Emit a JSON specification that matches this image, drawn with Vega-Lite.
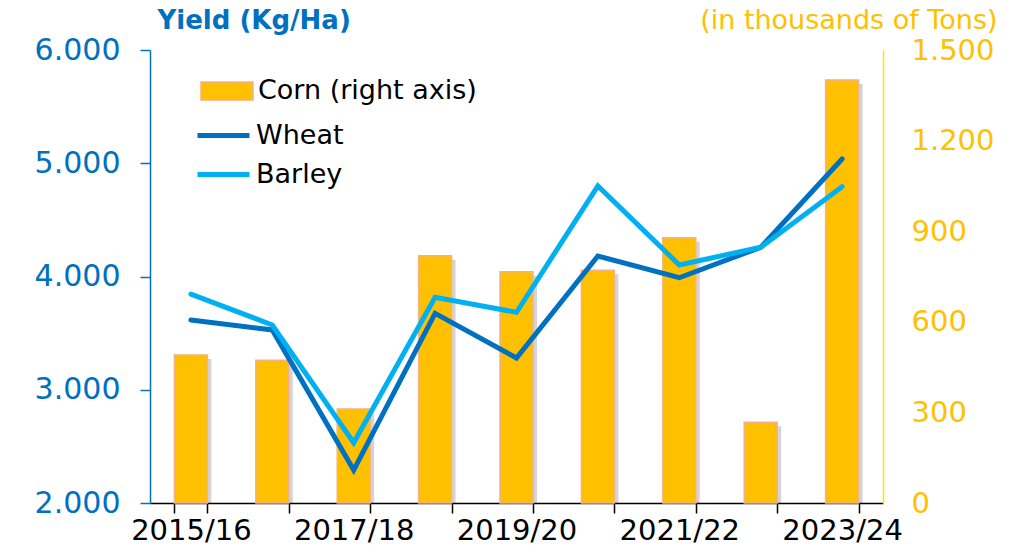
{
  "$schema": "https://vega.github.io/schema/vega-lite/v6.json",
  "width": 733,
  "height": 453,
  "autosize": {"type": "none"},
  "padding": {"left": 150, "top": 50, "right": 136, "bottom": 50},
  "background": "white",
  "config": {"font": "DejaVu Sans", "view": {"stroke": null}, "axis": {"grid": false}},
  "datasets": {
    "d": [
      {"year": "2015/16", "series": "Corn (right axis)", "value": 490},
      {"year": "2016/17", "series": "Corn (right axis)", "value": 473},
      {"year": "2017/18", "series": "Corn (right axis)", "value": 311},
      {"year": "2018/19", "series": "Corn (right axis)", "value": 819},
      {"year": "2019/20", "series": "Corn (right axis)", "value": 766},
      {"year": "2020/21", "series": "Corn (right axis)", "value": 771},
      {"year": "2021/22", "series": "Corn (right axis)", "value": 878},
      {"year": "2022/23", "series": "Corn (right axis)", "value": 267},
      {"year": "2023/24", "series": "Corn (right axis)", "value": 1401},
      {"year": "2015/16", "series": "Wheat", "value": 3616},
      {"year": "2016/17", "series": "Wheat", "value": 3528},
      {"year": "2017/18", "series": "Wheat", "value": 2291},
      {"year": "2018/19", "series": "Wheat", "value": 3675},
      {"year": "2019/20", "series": "Wheat", "value": 3280},
      {"year": "2020/21", "series": "Wheat", "value": 4181},
      {"year": "2021/22", "series": "Wheat", "value": 3989},
      {"year": "2022/23", "series": "Wheat", "value": 4258},
      {"year": "2023/24", "series": "Wheat", "value": 5038},
      {"year": "2015/16", "series": "Barley", "value": 3845},
      {"year": "2016/17", "series": "Barley", "value": 3572},
      {"year": "2017/18", "series": "Barley", "value": 2532},
      {"year": "2018/19", "series": "Barley", "value": 3816},
      {"year": "2019/20", "series": "Barley", "value": 3684},
      {"year": "2020/21", "series": "Barley", "value": 4799},
      {"year": "2021/22", "series": "Barley", "value": 4102},
      {"year": "2022/23", "series": "Barley", "value": 4258},
      {"year": "2023/24", "series": "Barley", "value": 4793}
    ]
  },
  "data": {"name": "d"},
  "encoding": {
    "x": {
      "field": "year",
      "type": "ordinal",
      "sort": null,
      "scale": {"paddingInner": 0.595, "paddingOuter": 0.3},
      "axis": {
        "title": null,
        "labelAngle": 0,
        "labelFontSize": 29,
        "labelColor": "#000000",
        "labelOverlap": false,
        "labelPadding": 3,
        "labelExpr": "indexof(['2015/16','2017/18','2019/20','2021/22','2023/24'], datum.value) >= 0 ? datum.value : ''",
        "domainColor": "#000000",
        "domainWidth": 1.5,
        "tickColor": "#000000",
        "tickWidth": 1.5,
        "tickSize": 10,
        "tickBand": "extent"
      }
    }
  },
  "layer": [
    {
      "transform": [{"filter": "datum.series === 'Corn (right axis)'"}],
      "encoding": {
        "y": {
          "field": "value",
          "type": "quantitative",
          "scale": {"domain": [0, 1500], "nice": false},
          "axis": {
            "orient": "right",
            "values": [0, 300, 600, 900, 1200, 1500],
            "labelExpr": "replace(format(datum.value, ','), ',', '.')",
            "labelColor": "#FFC000",
            "labelFontSize": 29,
            "labelPadding": 28,
            "ticks": false,
            "tickSize": 0,
            "domainColor": "#FFE600",
            "domainWidth": 1.5,
            "title": "(in thousands of Tons)",
            "titleAngle": 0,
            "titleX": 114,
            "titleY": -22,
            "titleAlign": "right",
            "titleBaseline": "alphabetic",
            "titleColor": "#FFC000",
            "titleFontSize": 27,
            "titleFontWeight": "normal"
          }
        }
      },
      "layer": [
        {
          "mark": {"type": "bar", "color": "#000000", "opacity": 0.17, "xOffset": 4, "yOffset": 4, "clip": true}
        },
        {
          "mark": {"type": "bar", "stroke": "#F4B183", "strokeWidth": 1.5},
          "encoding": {
            "fill": {
              "field": "series",
              "type": "nominal",
              "scale": {"domain": ["Corn (right axis)"], "range": ["#FFC000"]},
              "legend": {
                "orient": "none",
                "legendX": 56,
                "legendY": 20,
                "title": null,
                "padding": 0,
                "labelFontSize": 27,
                "labelColor": "#000000",
                "labelLimit": 500,
                "symbolSize": 1600,
                "symbolType": "M-1.3,-0.45H1.3V0.45H-1.3Z",
                "symbolStrokeColor": "#F4B183",
                "symbolStrokeWidth": 1.5,
                "symbolOpacity": 1,
                "labelOffset": 10
              }
            }
          }
        }
      ]
    },
    {
      "transform": [{"filter": "datum.series !== 'Corn (right axis)'"}],
      "mark": {"type": "line", "strokeWidth": 5, "strokeCap": "round", "strokeJoin": "miter"},
      "encoding": {
        "y": {
          "field": "value",
          "type": "quantitative",
          "scale": {"domain": [2000, 6000], "nice": false, "zero": false},
          "axis": {
            "orient": "left",
            "values": [2000, 3000, 4000, 5000, 6000],
            "labelExpr": "replace(format(datum.value, ','), ',', '.')",
            "labelColor": "#0070C0",
            "labelFontSize": 30,
            "labelPadding": 20,
            "domainColor": "#0070C0",
            "domainWidth": 1.5,
            "tickColor": "#0070C0",
            "tickWidth": 1.5,
            "tickSize": 10,
            "title": "Yield (Kg/Ha)",
            "titleAngle": 0,
            "titleX": 7,
            "titleY": -22,
            "titleAlign": "left",
            "titleBaseline": "alphabetic",
            "titleColor": "#0070C0",
            "titleFontSize": 26,
            "titleFontWeight": "bold"
          }
        },
        "stroke": {
          "field": "series",
          "type": "nominal",
          "scale": {"domain": ["Wheat", "Barley"], "range": ["#0070C0", "#00B0F0"]},
          "legend": {
            "orient": "none",
            "legendX": 51,
            "legendY": 63,
            "title": null,
            "padding": 0,
            "labelFontSize": 27,
            "labelColor": "#000000",
            "labelLimit": 500,
            "symbolSize": 1600,
            "symbolType": "M-1.3,0H1.3",
            "symbolStrokeWidth": 5,
            "symbolOpacity": 1,
            "labelOffset": 10,
            "rowPadding": 3
          }
        }
      }
    }
  ],
  "resolve": {"scale": {"y": "independent"}}
}
